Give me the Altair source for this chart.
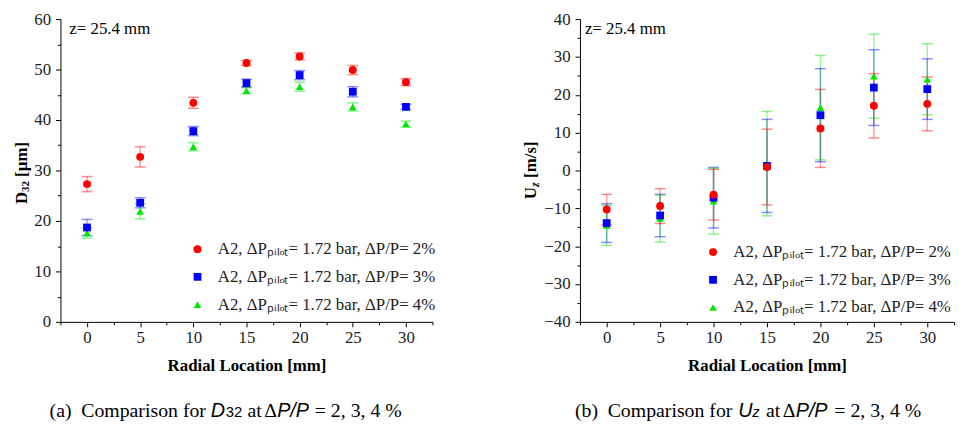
import altair as alt
import pandas as pd

# ---------------- data ----------------
radial = [0, 5, 10, 15, 20, 25, 30]
series_labels = [
    "A2, ΔPₚᵢₗₒₜ= 1.72 bar, ΔP/P= 2%",
    "A2, ΔPₚᵢₗₒₜ= 1.72 bar, ΔP/P= 3%",
    "A2, ΔPₚᵢₗₒₜ= 1.72 bar, ΔP/P= 4%",
]
bar_keys = ["err 2%", "err 3%", "err 4%"]
marker_colors = ["#ff0000", "#0000ff", "#00e600"]
marker_shapes = ["circle", "square", "triangle-up"]
marker_sizes = [64, 60, 80]

# (a) Sauter mean diameter D32 [um]
d32_2 = [27.3, 32.7, 43.4, 51.3, 52.6, 49.9, 47.5]
d32_2_err = [1.5, 2.0, 1.1, 0.5, 0.7, 0.9, 0.7]
d32_3 = [18.7, 23.6, 37.8, 47.3, 48.9, 45.6, 42.6]
d32_3_err = [1.6, 1.0, 0.9, 0.8, 0.9, 1.0, 0.5]
d32_4 = [17.6, 21.9, 34.7, 45.8, 46.6, 42.6, 39.2]
d32_4_err = [1.0, 1.5, 0.8, 0.6, 0.9, 0.8, 0.6]

# (b) axial velocity Uz [m/s]
uz_2 = [-10.3, -9.4, -6.4, 0.9, 11.1, 17.1, 17.6]
uz_2_err = [4.0, 4.6, 6.7, 10.0, 10.3, 8.5, 7.1]
uz_3 = [-13.9, -11.9, -7.2, 1.2, 14.6, 21.9, 21.5]
uz_3_err = [5.1, 5.6, 8.0, 12.3, 12.3, 10.0, 8.0]
uz_4 = [-14.5, -12.7, -8.1, 1.8, 16.6, 24.9, 24.1]
uz_4_err = [5.3, 6.2, 8.7, 13.8, 13.8, 11.1, 9.4]

x_ticks = [0, 5, 10, 15, 20, 25, 30]
x_minor = [-2.5, 2.5, 7.5, 12.5, 17.5, 22.5, 27.5, 32.5]
d32_ticks = [0, 10, 20, 30, 40, 50, 60]
d32_minor = [5, 15, 25, 35, 45, 55]
uz_ticks = [-40, -30, -20, -10, 0, 10, 20, 30, 40]
uz_minor = [-35, -25, -15, -5, 5, 15, 25, 35]

SERIF = "Liberation Serif"
SANS = "Liberation Sans"


def long_df(means, errs):
    rows = []
    for k in [2, 1, 0]:  # 4% drawn first, 2% on top
        for r, m, e in zip(radial, means[k], errs[k]):
            rows.append({"r": r, "series": series_labels[k],
                         "bar": bar_keys[k], "v": m,
                         "lo": m - e, "hi": m + e})
    return pd.DataFrame(rows)


def txt(s, x, y, size=17, weight="normal", style="normal", font=SERIF,
        angle=0, baseline="middle", dx=0, dy=0):
    return alt.Chart(pd.DataFrame({"t": [s]})).mark_text(
        align="left", baseline=baseline, font=font, fontSize=size,
        fontWeight=weight, fontStyle=style, angle=angle, dx=dx, dy=dy,
        color="black",
    ).encode(x=alt.value(x), y=alt.value(y), text="t:N")


def panel(df, ydom, yticks, yminor, width, extra_layers, legend_xy):
    xs = alt.Scale(domain=[-2.5, 32.5], nice=False, zero=False)
    ys = alt.Scale(domain=ydom, nice=False, zero=False)
    cs = alt.Scale(domain=series_labels, range=marker_colors)
    es = alt.Scale(domain=bar_keys, range=marker_colors)
    base = alt.Chart(df)
    base_err = alt.Chart(df.iloc[::-1].reset_index(drop=True))  # green on top

    minor_x = alt.Axis(orient="bottom", values=x_minor, labels=False,
                       domain=False, tickSize=3, tickColor="black",
                       grid=False, title=None)
    minor_y = alt.Axis(orient="left", values=yminor, labels=False,
                       domain=False, tickSize=3, tickColor="black",
                       grid=False, title=None)
    major_x = alt.Axis(orient="bottom", values=x_ticks, format="d",
                       title="Radial Location [mm]", tickSize=5,
                       labelPadding=3, titlePadding=12, grid=False,
                       domainColor="black", tickColor="black",
                       labelFont=SERIF, labelFontSize=17, labelColor="#222",
                       titleFont=SERIF, titleFontSize=17,
                       titleFontWeight="bold", titleColor="black")
    major_y = alt.Axis(orient="left", values=yticks, format="d", title=None,
                       tickSize=5, labelPadding=5, grid=False,
                       domainColor="black", tickColor="black",
                       labelFont=SERIF, labelFontSize=17, labelColor="#222")

    rules = base_err.mark_rule(strokeWidth=1.5, opacity=0.38).encode(
        x=alt.X("r:Q", scale=xs, axis=minor_x),
        y=alt.Y("lo:Q", scale=ys, axis=minor_y),
        y2="hi:Q",
        stroke=alt.Stroke("bar:N", scale=es, legend=None),
    )
    cap_lo = base_err.mark_tick(orient="horizontal", size=11, thickness=1.5,
                                opacity=0.45).encode(
        x=alt.X("r:Q", scale=xs, axis=None),
        y=alt.Y("lo:Q", scale=ys, axis=None),
        fill=alt.Fill("bar:N", scale=es, legend=None),
    )
    cap_hi = base_err.mark_tick(orient="horizontal", size=11, thickness=1.5,
                                opacity=0.45).encode(
        x=alt.X("r:Q", scale=xs, axis=None),
        y=alt.Y("hi:Q", scale=ys, axis=None),
        fill=alt.Fill("bar:N", scale=es, legend=None),
    )
    leg = alt.Legend(orient="none", legendX=legend_xy[0],
                     legendY=legend_xy[1], title=None,
                     labelFont=SERIF,
                     labelFontSize=17, labelColor="#222", labelLimit=500,
                     labelOffset=12, rowPadding=10, padding=0)
    pts = base.mark_point(filled=True, opacity=1).encode(
        x=alt.X("r:Q", scale=xs, axis=major_x),
        y=alt.Y("v:Q", scale=ys, axis=major_y),
        color=alt.Color("series:N", scale=cs, legend=leg),
        shape=alt.Shape("series:N",
                        scale=alt.Scale(domain=series_labels,
                                        range=marker_shapes),
                        legend=leg),
        size=alt.Size("series:N",
                      scale=alt.Scale(domain=series_labels,
                                      range=marker_sizes),
                      legend=leg),
    )
    return alt.layer(rules, cap_lo, cap_hi, pts, *extra_layers).resolve_axis(
        x="independent", y="independent").properties(width=width, height=306)


df_a = long_df([d32_2, d32_3, d32_4], [d32_2_err, d32_3_err, d32_4_err])
df_b = long_df([uz_2, uz_3, uz_4], [uz_2_err, uz_3_err, uz_4_err])

# ---- panel (a) decorations (positions relative to plot origin 61,16) ----
cap_y = 402
texts_a = [
    txt("z= 25.4 mm", 9, 10),
    txt("D", -39, 187, weight="bold", angle=270),
    txt("32", -39, 187, size=11, weight="bold", angle=270, dx=12.3, dy=4),
    txt("[µm]", -39, 187, weight="bold", angle=270, dx=27.5),
    txt("(a)", 50 - 61, cap_y, size=20, baseline="alphabetic"),
    txt("Comparison for", 82 - 61, cap_y, size=20, baseline="alphabetic"),
    txt("D", 213 - 61, cap_y, size=20, style="italic", font=SANS,
        baseline="alphabetic"),
    txt("32", 228 - 61, cap_y, size=15, font=SANS, baseline="alphabetic"),
    txt("at", 250 - 61, cap_y, size=20, baseline="alphabetic"),
    txt("Δ", 267 - 61, cap_y, size=20, baseline="alphabetic"),
    txt("P/P", 280 - 61, cap_y, size=20, style="italic", font=SANS,
        baseline="alphabetic"),
    txt("= 2, 3, 4 %", 318 - 61, cap_y, size=20, baseline="alphabetic"),
]

# ---- panel (b) decorations (positions relative to plot origin 582,16) ----
texts_b = [
    txt("z= 25.4 mm", 5, 10),
    txt("U", -49, 182, weight="bold", angle=270),
    txt("z", -49, 182, size=12, weight="bold", style="italic", angle=270,
        dx=12.3, dy=4),
    txt("[m/s]", -49, 182, weight="bold", angle=270, dx=21.5),
    txt("(b)", 577 - 582, cap_y, size=20, baseline="alphabetic"),
    txt("Comparison for", 610 - 582, cap_y, size=20, baseline="alphabetic"),
    txt("U", 742 - 582, cap_y, size=20, style="italic", font=SANS,
        baseline="alphabetic"),
    txt("z", 756 - 582, cap_y, size=15, style="italic", font=SANS,
        baseline="alphabetic"),
    txt("at", 770 - 582, cap_y, size=20, baseline="alphabetic"),
    txt("Δ", 787 - 582, cap_y, size=20, baseline="alphabetic"),
    txt("P/P", 800 - 582, cap_y, size=20, style="italic", font=SANS,
        baseline="alphabetic"),
    txt("= 2, 3, 4 %", 839 - 582, cap_y, size=20, baseline="alphabetic"),
]

left = panel(df_a, [0, 60], d32_ticks, d32_minor, 376, texts_a, (130, 224))
right = panel(df_b, [-40, 40], uz_ticks, uz_minor, 378, texts_b, (126, 227))

chart = alt.hconcat(left, right, spacing=88).resolve_scale(
    color="independent", shape="independent", size="independent",
    fill="independent", stroke="independent"
).resolve_legend(
    color="independent", shape="independent", size="independent",
    fill="independent", stroke="independent"
).properties(
    padding={"left": 5, "top": 0, "right": 0, "bottom": 0}
).configure_view(stroke=None)

chart.save("out.html", embed_options={"renderer": "svg", "actions": False})
